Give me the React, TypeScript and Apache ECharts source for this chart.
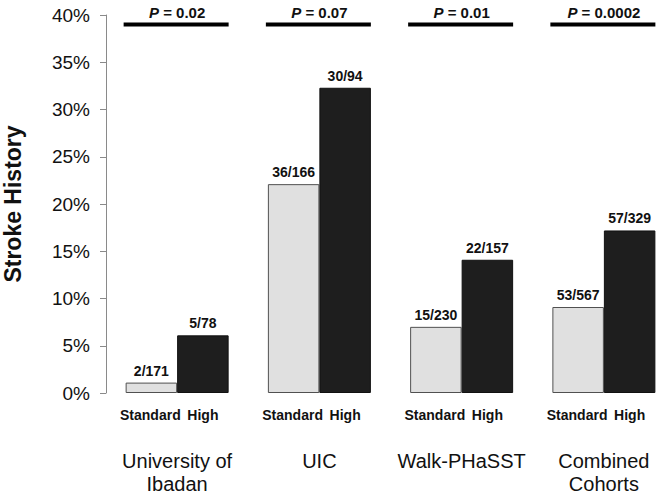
import React, { useEffect, useRef } from "react";
import * as echarts from "echarts";

const categories = ["University of\nIbadan", "UIC", "Walk-PHaSST", "Combined\nCohorts"];
const standardValues = [1.1, 22.1, 7.0, 9.1];
const highValues = [6.1, 32.3, 14.1, 17.2];
const standardLabels = ["2/171", "36/166", "15/230", "53/567"];
const highLabels = ["5/78", "30/94", "22/157", "57/329"];
const pValues = ["0.02", "0.07", "0.01", "0.0002"];
const subLabels = ["Standard", "High"];
const pLineLevel = 39;
const yTicks = { min: 0, max: 40, interval: 5 };

const FONT = "'Liberation Sans', Arial, sans-serif";
const BAR_W = 51.5;

export default function App() {
  const ref = useRef<HTMLDivElement>(null);
  useEffect(() => {
    document.body.style.margin = "0";
    const chart = echarts.init(ref.current!, null, { renderer: "svg" });
    const subData: number[][] = [];
    categories.forEach((_, i) => {
      subData.push([i, 0, 0]);
      subData.push([i, 0, 1]);
    });
    chart.setOption({
      animation: false,
      backgroundColor: "#ffffff",
      grid: { left: 106, top: 15, width: 569, height: 378, containLabel: false, outerBoundsMode: "none" },
      xAxis: {
        type: "category",
        data: categories,
        axisLine: { show: false },
        axisTick: { show: false },
        axisLabel: {
          margin: 56,
          fontFamily: FONT,
          fontSize: 20,
          lineHeight: 23,
          color: "#111",
          interval: 0,
        },
      },
      yAxis: {
        type: "value",
        min: yTicks.min,
        max: yTicks.max,
        interval: yTicks.interval,
        name: "Stroke History",
        nameLocation: "middle",
        nameGap: 82,
        nameTextStyle: { fontFamily: FONT, fontSize: 23, fontWeight: "bold", color: "#111" },
        axisLine: { show: true, lineStyle: { color: "#8a8a8a", width: 1 } },
        axisTick: { show: true, inside: false, length: 6, lineStyle: { color: "#8a8a8a" } },
        splitLine: { show: false },
        axisLabel: {
          formatter: "{value}%",
          margin: 16,
          fontFamily: FONT,
          fontSize: 19,
          color: "#111",
        },
      },
      series: [
        {
          name: "Standard",
          type: "bar",
          data: standardValues,
          barWidth: BAR_W,
          barGap: "0%",
          itemStyle: { color: "#e0e0e0", borderColor: "#505050", borderWidth: 1 },
          label: {
            show: true,
            position: "top",
            distance: 5,
            formatter: (p: any) => standardLabels[p.dataIndex],
            fontFamily: FONT,
            fontSize: 14,
            fontWeight: "bold",
            color: "#111",
          },
        },
        {
          name: "High",
          type: "bar",
          data: highValues,
          barWidth: BAR_W,
          barGap: "0%",
          itemStyle: { color: "#1e1e1e", borderColor: "#111", borderWidth: 1 },
          label: {
            show: true,
            position: "top",
            distance: 5,
            formatter: (p: any) => highLabels[p.dataIndex],
            fontFamily: FONT,
            fontSize: 14,
            fontWeight: "bold",
            color: "#111",
          },
        },
        {
          name: "P",
          type: "custom",
          data: pValues.map((_, i) => [i, pLineLevel]),
          silent: true,
          clip: false,
          renderItem: (params: any, api: any) => {
            const i = api.value(0);
            const pt = api.coord([i, api.value(1)]);
            const cx = pt[0];
            const cy = pt[1];
            return {
              type: "group",
              children: [
                {
                  type: "line",
                  shape: { x1: cx - BAR_W - 2, y1: cy, x2: cx + BAR_W, y2: cy },
                  style: { stroke: "#000", lineWidth: 4 },
                },
                {
                  type: "text",
                  x: cx,
                  y: cy - 4,
                  style: {
                    text: `{i|P}{n| = ${pValues[i]}}`,
                    align: "center",
                    verticalAlign: "bottom",
                    fill: "#111",
                    fontFamily: FONT,
                    fontSize: 15,
                    fontWeight: "bold",
                    rich: {
                      i: { fontStyle: "italic", fontWeight: "bold", fontSize: 15, fontFamily: FONT, fill: "#111" },
                      n: { fontWeight: "bold", fontSize: 15, fontFamily: FONT, fill: "#111" },
                    },
                  },
                },
              ],
            };
          },
        },
        {
          name: "Sub",
          type: "custom",
          data: subData,
          silent: true,
          clip: false,
          renderItem: (params: any, api: any) => {
            const i = api.value(0);
            const side = api.value(2);
            const pt = api.coord([i, api.value(1)]);
            const x = pt[0] + (side === 0 ? -BAR_W / 2 - 1 : BAR_W / 2);
            return {
              type: "text",
              x,
              y: pt[1] + 22,
              style: {
                text: subLabels[side],
                align: "center",
                verticalAlign: "middle",
                fill: "#111",
                fontFamily: FONT,
                fontSize: 14,
                fontWeight: "bold",
              },
            };
          },
        },
      ],
    });
    return () => chart.dispose();
  }, []);
  return <div ref={ref} style={{ width: 665, height: 495 }} />;
}
